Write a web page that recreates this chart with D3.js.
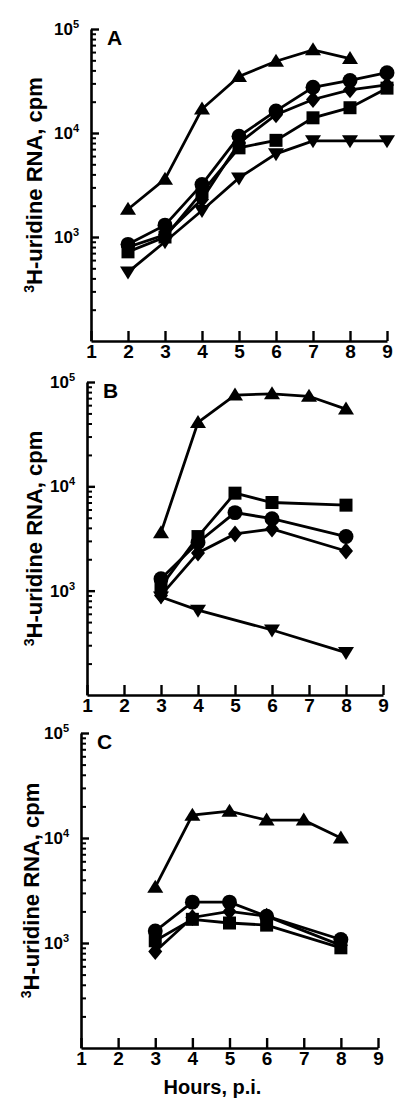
<!DOCTYPE html>
<html>
<head>
<meta charset="utf-8">
<script src="https://cdn.jsdelivr.net/npm/d3@7"></script>
<style>
  html, body { margin: 0; padding: 0; background: #fff; }
  svg { display: block; font-family: "Liberation Sans", Arial, Helvetica, sans-serif; font-weight: bold; }
</style>
</head>
<body>
<div id="chart"></div>
<script>
// Data (hours post infection vs 3H-uridine cpm).
const hourTicks = [1, 2, 3, 4, 5, 6, 7, 8, 9]
const decadeTicks = [1e3, 1e4, 1e5]
const yLabel = 'H-uridine RNA, cpm'
const xLabel = 'Hours, p.i.'

// Panel A
const hoursA = [2, 3, 4, 5, 6, 7, 8, 9]
const triUpA = [1850, 3600, 17000, 35000, 49000, 63000, 52000]
const circleA = [850, 1300, 3200, 9300, 16300, 27500, 32000, 38000]
const diamondA = [800, 1050, 2300, 8000, 15000, 21000, 26000, 29000]
const squareA = [720, 1000, 2700, 7200, 8500, 14000, 17500, 27000]
const triDownA = [460, 900, 1800, 3700, 6300, 8400, 8400, 8400]

// Panel B
const hoursB = [3, 4, 5, 6, 7, 8]
const hoursB2 = [3, 4, 5, 6, 8]
const hoursB3 = [3, 4, 6, 8]
const triUpB = [3600, 41000, 75000, 77000, 73000, 55000]
const squareB = [1100, 3300, 8600, 7000, 6600]
const circleB = [1300, 2900, 5600, 4900, 3300]
const diamondB = [900, 2300, 3500, 3900, 2400]
const triDownB = [870, 650, 420, 255]

// Panel C
const hoursC = [3, 4, 5, 6, 7, 8]
const hoursC2 = [3, 4, 5, 6, 8]
const triUpC = [3400, 16500, 18000, 14800, 14800, 10000]
const circleC = [1300, 2450, 2450, 1800, 1080]
const diamondC = [830, 1750, 2000, 1800, 950]
const squareC = [1050, 1680, 1550, 1480, 900]

const zip = (xs, ys) => ys.map((v, i) => ({ h: xs[i], v }))

const panels = [
  {
    id: 'A', left: 91, right: 387, top: 29, bottom: 341, labelX: 33,
    series: [
      { shape: 'triUp', pts: zip(hoursA, triUpA) },
      { shape: 'triDown', pts: zip(hoursA, triDownA) },
      { shape: 'square', pts: zip(hoursA, squareA) },
      { shape: 'diamond', pts: zip(hoursA, diamondA) },
      { shape: 'circle', pts: zip(hoursA, circleA) }
    ]
  },
  {
    id: 'B', left: 87, right: 383, top: 382, bottom: 695, labelX: 33,
    series: [
      { shape: 'triUp', pts: zip(hoursB, triUpB) },
      { shape: 'triDown', pts: zip(hoursB3, triDownB) },
      { shape: 'diamond', pts: zip(hoursB2, diamondB) },
      { shape: 'circle', pts: zip(hoursB2, circleB) },
      { shape: 'square', pts: zip(hoursB2, squareB) }
    ]
  },
  {
    id: 'C', left: 81, right: 378, top: 733, bottom: 1048, labelX: 30,
    series: [
      { shape: 'triUp', pts: zip(hoursC, triUpC) },
      { shape: 'diamond', pts: zip(hoursC2, diamondC) },
      { shape: 'square', pts: zip(hoursC2, squareC) },
      { shape: 'circle', pts: zip(hoursC2, circleC) }
    ]
  }
]

const width = 398
const height = 1099

const svg = d3.select('#chart')
  .append('svg')
  .attr('width', width)
  .attr('height', height)

// Marker paths, centred on 0,0.
const markerPath = {
  circle: d3.symbol(d3.symbolCircle, 175)(),
  square: 'M-6.5,-6.5H6.5V6.5H-6.5Z',
  diamond: 'M0,-8.5L7,0L0,8.5L-7,0Z',
  triUp: 'M0,-7.5L8,5.5L-8,5.5Z',
  triDown: 'M0,7.5L8,-5.5L-8,-5.5Z'
}

panels.forEach(p => {
  const g = svg.append('g').attr('class', `panel panel-${p.id}`)

  const x = d3.scaleLinear().domain([1, 9]).range([p.left, p.right])
  const y = d3.scaleLog().domain([100, 100000]).range([p.bottom, p.top])

  // X axis, ticks point inwards.
  const xAxis = g.append('g')
    .attr('transform', `translate(0,${p.bottom})`)
    .call(d3.axisBottom(x)
      .tickValues(hourTicks)
      .tickSizeInner(-10)
      .tickSizeOuter(0)
      .tickPadding(4)
      .tickFormat(d3.format('d')))
  xAxis.select('path.domain').attr('stroke', '#000').attr('stroke-width', 2.6)
  xAxis.selectAll('.tick line').attr('stroke', '#000').attr('stroke-width', 2.4)
  xAxis.selectAll('.tick text')
    .attr('fill', '#000')
    .attr('font-size', 19)
    .attr('font-family', '"Liberation Sans", Arial, sans-serif')
    .attr('font-weight', 'bold')

  // Y axis: minor ticks then decade ticks.
  const minor = y.ticks().filter(v => !decadeTicks.includes(v) && v !== 100)
  const yMinor = g.append('g')
    .attr('transform', `translate(${p.left},0)`)
    .call(d3.axisLeft(y)
      .tickValues(minor)
      .tickSizeInner(-5)
      .tickSizeOuter(0)
      .tickFormat(''))
  yMinor.select('path.domain').attr('stroke', '#000').attr('stroke-width', 2.6)
  yMinor.selectAll('.tick line').attr('stroke', '#000').attr('stroke-width', 2)

  const yMajor = g.append('g')
    .attr('transform', `translate(${p.left},0)`)
    .call(d3.axisLeft(y)
      .tickValues(decadeTicks)
      .tickSizeInner(-8)
      .tickSizeOuter(0)
      .tickFormat(''))
  yMajor.select('path.domain').remove()
  yMajor.selectAll('.tick line').attr('stroke', '#000').attr('stroke-width', 2.4)

  // Decade labels with superscripts.
  decadeTicks.forEach(v => {
    const t = g.append('text')
      .attr('x', p.left - 12)
      .attr('y', y(v) + 6)
      .attr('text-anchor', 'end')
      .attr('font-size', 17)
      .attr('fill', '#000')
    t.append('tspan').text('10')
    t.append('tspan')
      .attr('font-size', 11)
      .attr('dy', -7)
      .text(String(Math.round(Math.log10(v))))
  })

  // Panel letter.
  g.append('text')
    .attr('x', p.left + 16)
    .attr('y', p.top + 16)
    .attr('font-size', 21)
    .attr('fill', '#000')
    .text(p.id)

  // Y axis title.
  const cy = (p.top + p.bottom) / 2
  const yt = g.append('text')
    .attr('transform', `translate(${p.labelX + 9},${cy}) rotate(-90)`)
    .attr('text-anchor', 'middle')
    .attr('font-size', 22)
    .attr('fill', '#000')
  yt.append('tspan').attr('font-size', 14).attr('dy', -8).text('3')
  yt.append('tspan').attr('dy', 8).text(yLabel)

  // Series.
  const line = d3.line().x(d => x(d.h)).y(d => y(d.v))
  p.series.forEach(s => {
    g.append('path')
      .datum(s.pts)
      .attr('d', line)
      .attr('fill', 'none')
      .attr('stroke', '#000')
      .attr('stroke-width', 2.8)
  })
  p.series.forEach(s => {
    g.selectAll(null)
      .data(s.pts)
      .enter()
      .append('path')
      .attr('d', markerPath[s.shape])
      .attr('transform', d => `translate(${x(d.h)},${y(d.v)})`)
      .attr('fill', '#000')
  })
})

// X axis title under the last panel.
const last = panels[panels.length - 1]
svg.append('text')
  .attr('x', (last.left + last.right) / 2 - 17)
  .attr('y', 1094)
  .attr('text-anchor', 'middle')
  .attr('font-size', 20)
  .attr('fill', '#000')
  .text(xLabel)
</script>
</body>
</html>
